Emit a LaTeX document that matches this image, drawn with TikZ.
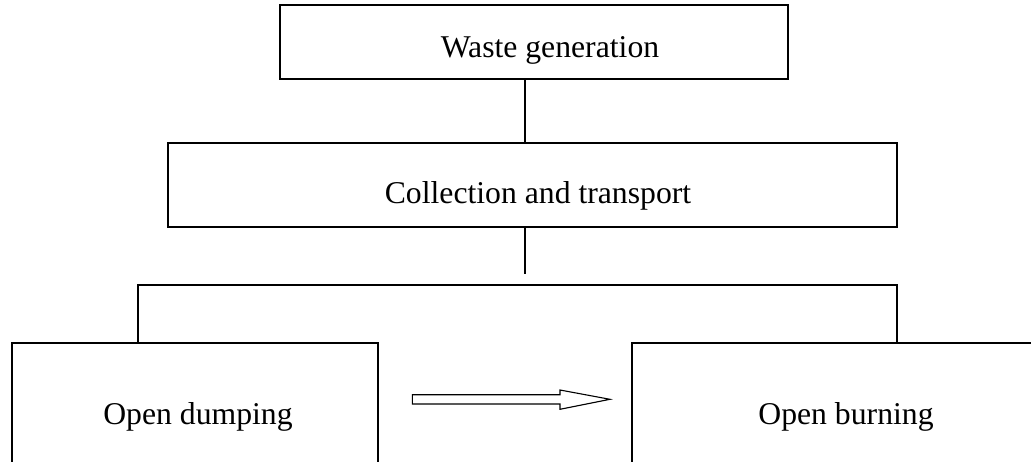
\documentclass[tikz,border=0pt]{standalone}
\usepackage{fontspec}
\setmainfont{Liberation Serif}
\begin{document}
\begin{tikzpicture}[x=1pt,y=-1pt,
  box/.style={draw=black, line width=1.3pt, rectangle, inner sep=0pt},
  lbl/.style={font=\fontsize{31.7}{38}\selectfont, inner sep=0pt, anchor=base, text=black},
  conn/.style={draw=black, line width=1.3pt},
  hollowarrow/.style={draw=black, line width=1.1pt, fill=white, line join=miter}]
\clip (0,0) rectangle (1031,461);
\fill[white] (0,0) rectangle (1031,461);
% boxes
\node[box, minimum width=508pt, minimum height=74pt] (top) at (534,42) {};
\node[box, minimum width=729pt, minimum height=84pt] (mid) at (532.5,185) {};
\node[box, minimum width=366pt, minimum height=160pt] (dump) at (195,423) {};
\node[box, minimum width=468pt, minimum height=160pt] (burn) at (866,423) {};
% labels
\node[lbl] (t1) at (550,57) {Waste generation};
\node[lbl] (t2) at (538,203) {Collection and transport};
\node[lbl] (t3) at (198,424) {Open dumping};
\node[lbl] (t4) at (846,424) {Open burning};
% connectors
\coordinate (stub) at (525,274);
\coordinate (busL) at (138,285);
\coordinate (busR) at (897,285);
\draw[conn] ([xshift=-9pt]top.south) -- ([xshift=-9pt]top.south |- mid.north);
\draw[conn] (stub |- mid.south) -- (stub);
\draw[conn] (busL |- dump.north) -- (busL) -- (busR) -- (busR |- burn.north);
% hollow arrow
\coordinate (as) at (412.3,399.3);
\coordinate (ae) at (610,399.3);
\draw[hollowarrow] (as) ++(0,-4.6) -- (560,394.7) -- (560,390) -- (ae) -- (560,409.3) -- (560,404) -- (412.3,404) -- cycle;
\end{tikzpicture}
\end{document}
